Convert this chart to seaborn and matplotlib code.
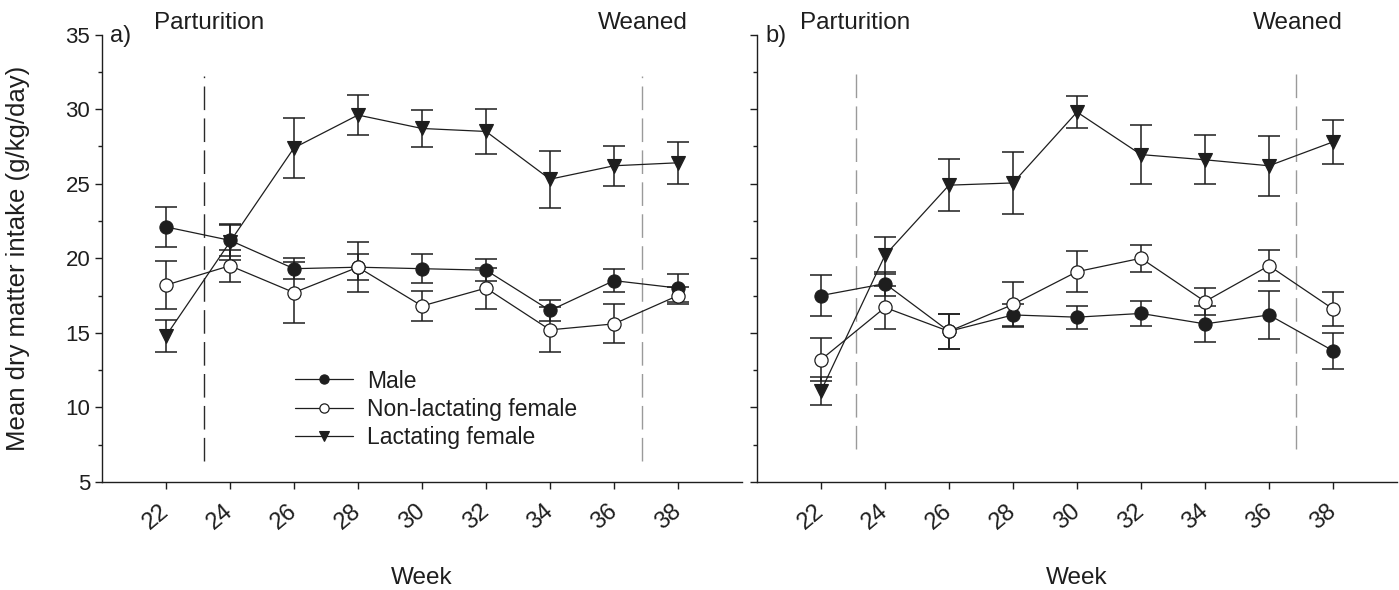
import numpy as np
import pandas as pd
import matplotlib
matplotlib.use("Agg")
import matplotlib.pyplot as plt
import seaborn as sns

# ---------------- data ----------------
weeks = [22, 24, 26, 28, 30, 32, 34, 36, 38]
week_ticks = [22, 24, 26, 28, 30, 32, 34, 36, 38]
series_names = ["Male", "Non-lactating female", "Lactating female"]

# panel a)
male_a = [22.1, 21.2, 19.3, 19.4, 19.3, 19.2, 16.5, 18.5, 18.0]
male_a_err = [1.34, 1.05, 0.70, 0.86, 0.97, 0.72, 0.70, 0.75, 0.95]
nonlact_a = [18.2, 19.5, 17.7, 19.4, 16.8, 18.0, 15.2, 15.6, 17.5]
nonlact_a_err = [1.62, 1.07, 2.05, 1.68, 0.98, 1.37, 1.50, 1.30, 0.55]
lact_a = [14.8, 21.1, 27.4, 29.6, 28.7, 28.5, 25.3, 26.2, 26.4]
lact_a_err = [1.07, 1.20, 2.00, 1.35, 1.25, 1.50, 1.90, 1.35, 1.40]

# panel b)
male_b = [17.5, 18.3, 15.1, 16.2, 16.05, 16.3, 15.6, 16.2, 13.8]
male_b_err = [1.35, 0.80, 1.17, 0.75, 0.77, 0.85, 1.20, 1.60, 1.20]
nonlact_b = [13.2, 16.7, 15.1, 16.9, 19.1, 20.0, 17.1, 19.5, 16.6]
nonlact_b_err = [1.46, 1.46, 1.17, 1.50, 1.37, 0.90, 0.88, 1.03, 1.14]
lact_b = [11.1, 20.2, 24.9, 25.05, 29.8, 26.95, 26.6, 26.2, 27.8]
lact_b_err = [0.95, 1.23, 1.75, 2.10, 1.05, 2.00, 1.65, 2.00, 1.50]

panel_labels = ["a)", "b)"]
event_labels = ["Parturition", "Weaned"]
parturition_week = [23.2, 23.1]
weaned_week = [36.87, 36.85]

# ---------------- style ----------------
sns.set_theme(style="ticks")
plt.rcParams["font.family"] = ["Liberation Sans", "DejaVu Sans"]
INK = "#1e1e1e"
plt.rcParams.update({
    "axes.edgecolor": INK,
    "axes.linewidth": 1.0,
    "xtick.color": INK,
    "ytick.color": INK,
    "text.color": INK,
    "axes.labelcolor": INK,
})

W, H = 1399, 590
fig = plt.figure(figsize=(W / 100, H / 100), dpi=100)
fig.patch.set_facecolor("white")
ax_bottom = (H - 482) / H
ax_h = 447.5 / H
ax_w = 640 / W
ax1 = fig.add_axes([102 / W, ax_bottom, ax_w, ax_h])
ax2 = fig.add_axes([757 / W, ax_bottom, ax_w, ax_h])

panels = [
    (ax1, male_a, male_a_err, nonlact_a, nonlact_a_err, lact_a, lact_a_err),
    (ax2, male_b, male_b_err, nonlact_b, nonlact_b_err, lact_b, lact_b_err),
]

vline_span = [(6.4, 32.2), (7.2, 32.9)]

for i, (ax, m, me, n, ne, l, le) in enumerate(panels):
    # error bars (drawn first, below markers)
    for vals, errs in ((l, le), (m, me), (n, ne)):
        ax.errorbar(weeks, vals, yerr=errs, fmt="none", ecolor=INK,
                    elinewidth=1.1, capsize=8, capthick=1.1, zorder=2)
    df = pd.DataFrame({"week": weeks, "Male": m,
                       "Non-lactating female": n, "Lactating female": l})
    sns.lineplot(data=df, x="week", y="Lactating female", ax=ax, color=INK,
                 marker="v", markersize=10.5, markerfacecolor=INK,
                 markeredgecolor=INK, markeredgewidth=0.8, linewidth=0.9,
                 errorbar=None, label=series_names[2], legend=False, zorder=3)
    sns.lineplot(data=df, x="week", y="Male", ax=ax, color=INK,
                 marker="o", markersize=9.5, markerfacecolor=INK,
                 markeredgecolor=INK, markeredgewidth=0.8, linewidth=0.9,
                 errorbar=None, label=series_names[0], legend=False, zorder=3)
    sns.lineplot(data=df, x="week", y="Non-lactating female", ax=ax, color=INK,
                 marker="o", markersize=9.5, markerfacecolor="white",
                 markeredgecolor=INK, markeredgewidth=0.9, linewidth=0.9,
                 errorbar=None, label=series_names[1], legend=False, zorder=4)

    # event lines
    y0, y1 = vline_span[i]
    part_color = "#2a2a2a" if i == 0 else "#9a9a9a"
    ax.plot([parturition_week[i]] * 2, [y0, y1], color=part_color,
            linewidth=1.0, dashes=(17, 6), zorder=1)
    ax.plot([weaned_week[i]] * 2, [y0, y1], color="#9a9a9a",
            linewidth=1.0, dashes=(17, 6), zorder=1)

    ax.set_xlim(20, 40)
    ax.set_ylim(5, 35)
    ax.set_xticks(week_ticks)
    ax.set_yticks(np.arange(5, 36, 5))
    ax.set_yticks(np.arange(7.5, 35, 5), minor=True)
    ax.tick_params(axis="both", which="major", direction="out", length=5,
                   width=1.0)
    ax.tick_params(axis="y", which="major", labelsize=16)
    ax.tick_params(axis="y", which="minor", direction="out", length=3,
                   width=1.0)
    ax.tick_params(axis="x", which="major", pad=14, labelsize=17)
    ax.set_xticklabels([str(w) for w in week_ticks], rotation=40, ha="right",
                       va="center", rotation_mode="anchor")
    for s in ("top", "right"):
        ax.spines[s].set_visible(False)
    ax.set_facecolor("white")

    ax.set_xlabel("Week", fontsize=17.5)
    ax.xaxis.set_label_coords(0.5, -0.19)
    ax.set_ylabel("")

    trans = ax.get_xaxis_transform()
    ax.text(20.25, 0.997, panel_labels[i], transform=trans, fontsize=17,
            ha="left", va="center")
    ax.text(21.62 if i == 0 else 21.35, 1.026, event_labels[0],
            transform=trans, fontsize=17.5, ha="left", va="center")
    ax.text(38.3, 1.026, event_labels[1], transform=trans, fontsize=17.5,
            ha="right", va="center")

ax2.tick_params(axis="y", labelleft=False)
ax1.set_ylabel("Mean dry matter intake (g/kg/day)", fontsize=18.5)
ax1.yaxis.set_label_coords(-0.113, 0.5)

handles, labels = ax1.get_legend_handles_labels()
order = [labels.index(n) for n in series_names]
leg = ax1.legend([handles[k] for k in order], [labels[k] for k in order],
                 loc="center left", bbox_to_anchor=(0.302, 0.163),
                 frameon=False, fontsize=16.5, handlelength=2.5,
                 handletextpad=0.65, labelspacing=0.22, borderpad=0,
                 borderaxespad=0, markerscale=0.7)

fig.savefig("out.png", dpi=100, facecolor="white")
